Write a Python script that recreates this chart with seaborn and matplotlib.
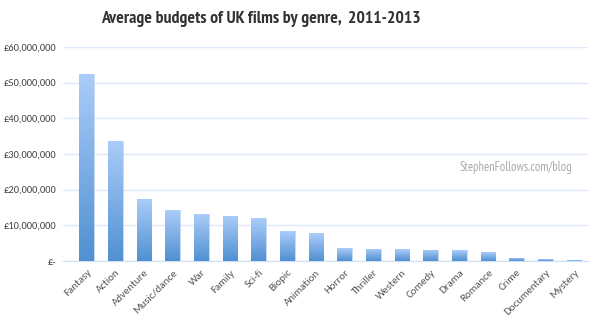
import numpy as np
import pandas as pd
import matplotlib
matplotlib.use("Agg")
import matplotlib.pyplot as plt
import seaborn as sns
from matplotlib.colors import LinearSegmentedColormap
from matplotlib.ticker import FuncFormatter

genres = ["Fantasy", "Action", "Adventure", "Music/dance", "War", "Family", "Sci-fi",
          "Biopic", "Animation", "Horror", "Thriller", "Western", "Comedy", "Drama",
          "Romance", "Crime", "Documentary", "Mystery"]
budgets = [52.4e6, 33.7e6, 17.4e6, 14.2e6, 13.3e6, 12.7e6, 12.0e6,
           8.3e6, 7.8e6, 3.6e6, 3.5e6, 3.3e6, 3.1e6, 3.0e6,
           2.5e6, 0.9e6, 0.5e6, 0.25e6]
yticks = [0, 10e6, 20e6, 30e6, 40e6, 50e6, 60e6]

df = pd.DataFrame({"genre": genres, "budget": budgets})

sns.set_style("white")
plt.rcParams["font.family"] = ["Carlito", "DejaVu Sans"]

fig = plt.figure(figsize=(6, 3.3), dpi=100)
ax = fig.add_axes([0.105, 0.209, 0.875, 0.649])

sns.barplot(data=df, x="genre", y="budget", color="#7fb2ec", width=0.51,
            saturation=1, ax=ax, zorder=2)

cmap = LinearSegmentedColormap.from_list("g", ["#5090d2", "#abcdf9"])
grad = np.linspace(0, 1, 256).reshape(-1, 1)
for p in list(ax.patches):
    x0, y0 = p.get_x(), p.get_y()
    w, h = p.get_width(), p.get_height()
    im = ax.imshow(grad, cmap=cmap, aspect="auto", origin="lower",
                   extent=[x0, x0 + w, y0, y0 + h], zorder=3)
    im.set_clip_path(p)
    p.set_edgecolor("#c8dcf2")
    p.set_linewidth(0.6)

ax.set_xlim(-0.83, 17.49)
ax.set_ylim(0, 60e6)
ax.set_yticks(yticks)
ax.yaxis.set_major_formatter(FuncFormatter(lambda v, _: "£-" if v == 0 else f"£{int(v):,}"))
ax.grid(axis="y", color="#dde9f6", linewidth=1, zorder=0)
ax.set_axisbelow(True)
for s in ["top", "right", "left"]:
    ax.spines[s].set_visible(False)
ax.spines["bottom"].set_color("#cfe0f3")
ax.tick_params(axis="y", length=0, labelsize=7.5, labelcolor="#444444", pad=5)
ax.tick_params(axis="x", length=0, labelsize=7.8, labelcolor="#555555", pad=5)
ax.set_xlabel("")
ax.set_ylabel("")
plt.setp(ax.get_xticklabels(), rotation=45, ha="right", rotation_mode="anchor")

fig.text(0.435, 0.943, "Average budgets of UK films by genre,  2011-2013", ha="center", va="center",
         fontsize=12.8, fontweight="bold", color="#333333", family=["PT Sans Narrow", "DejaVu Sans"])
ax.text(0.97, 0.435, "StephenFollows.com/blog", transform=ax.transAxes, ha="right", va="center",
        fontsize=9, color="#aaaaaa", family=["PT Sans Narrow", "DejaVu Sans"])

fig.savefig("out.png", dpi=100)
